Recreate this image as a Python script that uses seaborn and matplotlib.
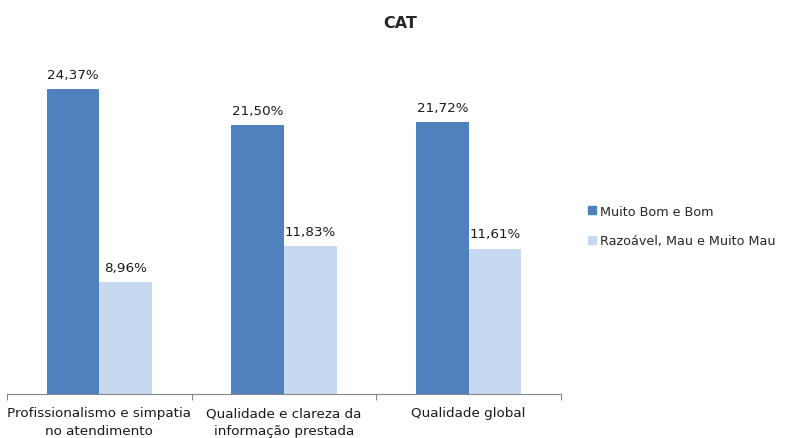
import matplotlib
matplotlib.use("Agg")
import matplotlib.pyplot as plt
import seaborn as sns
import pandas as pd

categories = ["Profissionalismo e simpatia\nno atendimento",
              "Qualidade e clareza da\ninformação prestada",
              "Qualidade global"]
series_names = ["Muito Bom e Bom", "Razoável, Mau e Muito Mau"]
good_values = [24.37, 21.50, 21.72]
bad_values = [8.96, 11.83, 11.61]
colors = ["#4F81BD", "#C6D9F1"]

df = pd.DataFrame({
    "categoria": categories * 2,
    "serie": [series_names[0]] * 3 + [series_names[1]] * 3,
    "valor": good_values + bad_values,
})

sns.set_theme(style="white")
plt.rcParams["font.family"] = ["DejaVu Sans"]

fs = 9.7

fig = plt.figure(figsize=(7.86, 4.39), dpi=100)
ax = fig.add_axes([7 / 786, 44 / 439, 554 / 786, (395 - 57) / 439])

sns.barplot(data=df, x="categoria", y="valor", hue="serie",
            palette=colors, width=0.57, gap=0, ax=ax, saturation=1,
            edgecolor="none", linewidth=0)

for cont in ax.containers:
    ax.bar_label(cont, labels=[f"{v:.2f}%".replace(".", ",") for v in cont.datavalues],
                 padding=6, fontsize=fs, color="#1a1a1a")

ax.set_ylim(0, 27)
ax.set_xlim(-0.5, 2.5)
ax.set_xlabel("")
ax.set_ylabel("")
ax.set_yticks([])
for s in ["left", "top", "right"]:
    ax.spines[s].set_visible(False)
ax.spines["bottom"].set_color("#868686")
ax.spines["bottom"].set_linewidth(0.8)

ax.set_xticks([0, 1, 2])
ax.set_xticklabels(categories, fontsize=fs, color="#1a1a1a", linespacing=1.45)
ax.tick_params(axis="x", which="major", length=0, pad=9)
ax.set_xticks([-0.5, 0.5, 1.5, 2.5], minor=True)
ax.tick_params(axis="x", which="minor", length=4, width=0.8, color="#868686",
               direction="out", bottom=True)

ax.legend_.remove()
handles = [plt.Rectangle((0, 0), 1, 1, color=c) for c in colors]
fig.legend(handles, series_names, loc="center left",
           bbox_to_anchor=(583 / 786, 1 - 227 / 439), frameon=False,
           fontsize=9.2, handlelength=0.6, handleheight=0.6,
           handletextpad=0.35, labelspacing=1.3, borderaxespad=0)

fig.suptitle("CAT", x=400 / 786, y=1 - 16 / 439, fontsize=11.5, fontweight="bold",
             va="top")

fig.savefig("out.png", dpi=100, facecolor="white")
